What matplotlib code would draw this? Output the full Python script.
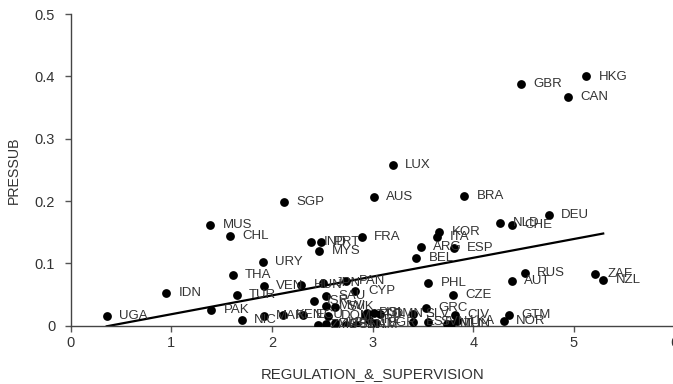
import matplotlib
matplotlib.use("Agg")
import matplotlib.pyplot as plt
import numpy as np

plt.rcParams['font.family'] = ['Liberation Sans', 'DejaVu Sans']

countries = ["HKG", "GBR", "CAN", "LUX", "AUS", "BRA", "SGP", "DEU", "NLD", "CHE",
             "MUS", "CHL", "KOR", "ITA", "FRA", "IND", "PRT", "MYS", "ARG", "ESP",
             "BEL", "URY", "RUS", "ZAF", "THA", "NZL", "AUT", "PHL", "VEN", "HUN",
             "JPN", "PAN", "IDN", "CYP", "CZE", "TUR", "ISR", "SAU", "PAK", "UGA",
             "NIC", "MAR", "KEN", "ECU", "MWI", "SVK", "DOM", "ZMB", "ZWE", "LBN",
             "SEN", "NAM", "TTO", "POL", "IRL", "ISL", "BGR", "OMN", "SLV", "EST",
             "GRC", "SVN", "CIV", "LKA", "MLI", "TUN", "GTM", "NOR"]
regulation = [5.12, 4.47, 4.94, 3.20, 3.01, 3.91, 2.12, 4.75, 4.27, 4.38,
              1.39, 1.58, 3.66, 3.64, 2.89, 2.39, 2.49, 2.47, 3.48, 3.81,
              3.43, 1.91, 4.51, 5.21, 1.61, 5.29, 4.38, 3.55, 1.92, 2.29,
              2.51, 2.74, 0.95, 2.83, 3.80, 1.65, 2.42, 2.54, 1.40, 0.36,
              1.70, 1.92, 2.11, 2.31, 2.54, 2.63, 2.56, 2.46, 2.54, 2.63,
              2.74, 2.84, 2.92, 2.94, 2.96, 3.01, 3.03, 3.07, 3.40, 3.40,
              3.53, 3.55, 3.82, 3.84, 3.74, 3.78, 4.35, 4.30]
pressub = [0.400, 0.388, 0.367, 0.258, 0.206, 0.208, 0.198, 0.178, 0.165, 0.162,
           0.162, 0.144, 0.151, 0.142, 0.142, 0.134, 0.135, 0.120, 0.126, 0.124,
           0.108, 0.103, 0.085, 0.083, 0.082, 0.073, 0.071, 0.069, 0.064, 0.065,
           0.069, 0.072, 0.053, 0.056, 0.050, 0.049, 0.040, 0.047, 0.026, 0.016,
           0.009, 0.016, 0.017, 0.017, 0.032, 0.030, 0.016, 0.001, 0.002, 0.004,
           0.001, 0.001, 0.017, 0.021, 0.009, 0.021, 0.004, 0.019, 0.019, 0.006,
           0.028, 0.006, 0.017, 0.008, 0.003, 0.002, 0.017, 0.008]

fit_intercept = -0.0118
fit_slope = 0.0302

x_ticks = [0, 1, 2, 3, 4, 5, 6]
y_ticks = [0, 0.1, 0.2, 0.3, 0.4, 0.5]
y_ticklabels = ["0", "0.1", "0.2", "0.3", "0.4", "0.5"]

fig = plt.figure(figsize=(6.73, 3.84), dpi=100)
ax = fig.add_axes([70.5 / 673, 58.3 / 384, 604.2 / 673, 311.5 / 384])

txt_color = "#333333"
ax.scatter(regulation, pressub, s=40, color="black", zorder=3, linewidths=0)
for c, xv, yv in zip(countries, regulation, pressub):
    ax.annotate(c, (xv, yv), xytext=(9, 0), textcoords="offset points",
                va="center", ha="left", fontsize=9.5, color=txt_color)

xl = np.array([min(regulation), max(regulation)])
ax.plot(xl, fit_intercept + fit_slope * xl, color="black", lw=1.6, zorder=2)

ax.set_xlim(0, 6)
ax.set_ylim(0, 0.5)
ax.set_xticks(x_ticks)
ax.set_xticklabels([str(t) for t in x_ticks])
ax.set_yticks(y_ticks)
ax.set_yticklabels(y_ticklabels)
ax.spines['top'].set_visible(False)
ax.spines['right'].set_visible(False)
for s in ['left', 'bottom']:
    ax.spines[s].set_color("#444444")
    ax.spines[s].set_linewidth(1.0)
ax.tick_params(axis='both', colors="#555555", labelcolor=txt_color, labelsize=10.5,
               length=4, width=1.0, direction='out')
ax.tick_params(axis='y', pad=7)
ax.set_xlabel("REGULATION_&_SUPERVISION", fontsize=10.7, color=txt_color, labelpad=12)
ax.set_ylabel("PRESSUB", fontsize=10.2, color=txt_color, labelpad=10)

fig.savefig("out.png", dpi=100)
